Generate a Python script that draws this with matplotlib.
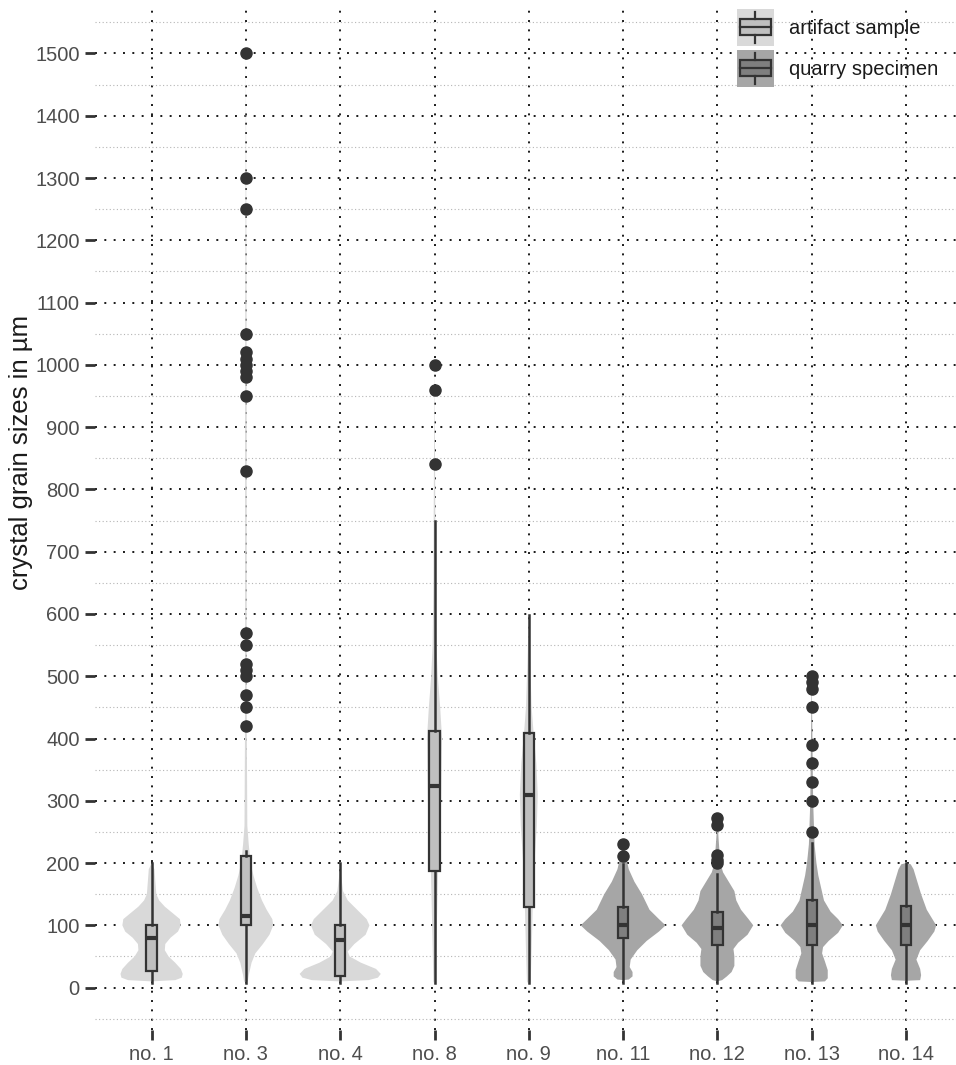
import numpy as np
import matplotlib.pyplot as plt
from matplotlib.patches import Rectangle
from matplotlib.lines import Line2D
from matplotlib.legend_handler import HandlerBase
from matplotlib.ticker import MultipleLocator

plt.rcParams['font.family'] = ['Liberation Sans', 'DejaVu Sans']

# 类别与分组
categories = ['no. 1', 'no. 3', 'no. 4', 'no. 8', 'no. 9', 'no. 11', 'no. 12', 'no. 13', 'no. 14']
groups = ['artifact', 'artifact', 'artifact', 'artifact', 'artifact',
          'quarry', 'quarry', 'quarry', 'quarry']

# 箱线图统计量 (µm)
q1 = [26, 100, 19, 188, 129, 79, 68, 68, 68]
median = [80, 115, 77, 324, 310, 100, 96, 101, 101]
q3 = [100, 212, 100, 412, 409, 130, 121, 141, 131]
whisk_lo = [8, 8, 8, 8, 8, 8, 8, 8, 8]
whisk_hi = [200, 220, 200, 750, 598, 198, 182, 232, 200]

# 离群点
outliers = [
    [],
    [420, 450, 470, 500, 510, 520, 550, 570, 830, 950, 980, 990, 1000, 1010, 1020, 1050, 1250, 1300, 1500],
    [],
    [840, 960, 1000],
    [],
    [212, 231],
    [200, 205, 213, 261, 272],
    [250, 300, 330, 360, 390, 450, 480, 490, 500],
    [],
]

# 小提琴轮廓: (值, 半宽)
violin_no1 = [(10, 0.0), (12, 0.25), (16, 0.32), (22, 0.33), (30, 0.31), (40, 0.25), (50, 0.18),
              (60, 0.14), (70, 0.145), (80, 0.2), (90, 0.28), (100, 0.31), (110, 0.3), (120, 0.22),
              (130, 0.14), (140, 0.08), (150, 0.05), (170, 0.04), (190, 0.03), (200, 0.0)]
violin_no3 = [(8, 0.0), (10, 0.02), (20, 0.03), (40, 0.06), (55, 0.1), (70, 0.18), (85, 0.25),
              (100, 0.29), (110, 0.28), (125, 0.22), (140, 0.17), (160, 0.12), (180, 0.08),
              (200, 0.05), (230, 0.03), (260, 0.015), (400, 0.01), (600, 0.008), (1000, 0.008),
              (1500, 0.0)]
violin_no4 = [(10, 0.0), (12, 0.3), (16, 0.4), (22, 0.43), (30, 0.38), (40, 0.22), (50, 0.1),
              (58, 0.08), (70, 0.15), (85, 0.27), (100, 0.31), (110, 0.28), (125, 0.18),
              (140, 0.08), (155, 0.03), (180, 0.01), (200, 0.0)]
violin_no8 = [(5, 0.0), (10, 0.012), (100, 0.025), (200, 0.04), (300, 0.07), (350, 0.075),
              (400, 0.08), (450, 0.06), (500, 0.035), (550, 0.02), (650, 0.012), (750, 0.009),
              (1000, 0.0)]
violin_no9 = [(5, 0.0), (10, 0.02), (60, 0.03), (120, 0.04), (200, 0.06), (260, 0.085),
              (310, 0.095), (360, 0.08), (410, 0.05), (450, 0.03), (520, 0.015), (600, 0.0)]
violin_no11 = [(12, 0.0), (13, 0.06), (18, 0.1), (25, 0.1), (33, 0.07), (45, 0.08), (60, 0.15),
               (75, 0.25), (90, 0.38), (100, 0.45), (110, 0.38), (125, 0.28), (150, 0.2),
               (170, 0.12), (190, 0.06), (210, 0.03), (231, 0.0)]
violin_no12 = [(10, 0.0), (12, 0.05), (18, 0.1), (25, 0.15), (35, 0.18), (50, 0.18), (62, 0.17),
               (72, 0.22), (85, 0.32), (100, 0.38), (110, 0.33), (125, 0.25), (140, 0.2),
               (155, 0.18), (170, 0.12), (185, 0.06), (200, 0.03), (240, 0.012), (272, 0.0)]
violin_no13 = [(9, 0.0), (10, 0.14), (15, 0.17), (28, 0.17), (42, 0.14), (55, 0.11), (65, 0.12),
               (75, 0.18), (88, 0.28), (100, 0.33), (110, 0.28), (122, 0.2), (140, 0.13),
               (160, 0.1), (180, 0.07), (200, 0.05), (230, 0.03), (300, 0.015), (500, 0.0)]
violin_no14 = [(11, 0.0), (12, 0.15), (20, 0.16), (30, 0.15), (45, 0.11), (60, 0.15), (75, 0.23),
               (90, 0.3), (100, 0.32), (110, 0.28), (125, 0.22), (150, 0.16), (170, 0.12),
               (190, 0.08), (198, 0.05), (200, 0.0)]
violins = [violin_no1, violin_no3, violin_no4, violin_no8, violin_no9,
           violin_no11, violin_no12, violin_no13, violin_no14]

violin_color = {'artifact': '#d9d9d9', 'quarry': '#a6a6a6'}
box_color = {'artifact': '#bfbfbf', 'quarry': '#7f7f7f'}
edge = '#333333'


class BoxKeyHandler(HandlerBase):
    """图例里的箱线图小图标（正方形底色）"""
    def __init__(self, bg, fill):
        super().__init__()
        self.bg = bg
        self.fill = fill

    def create_artists(self, legend, orig_handle, xdescent, ydescent, width, height, fontsize, trans):
        s = width
        x0 = -xdescent
        y0 = -ydescent + height / 2 - s / 2
        bg = Rectangle((x0, y0), s, s, facecolor=self.bg, edgecolor='none', transform=trans)
        bx = Rectangle((x0 + s * 0.07, y0 + s * 0.28), s * 0.86, s * 0.44,
                       facecolor=self.fill, edgecolor=edge, linewidth=1.6, transform=trans)
        med = Line2D([x0 + s * 0.07, x0 + s * 0.93], [y0 + s * 0.5] * 2,
                     color=edge, linewidth=1.6, transform=trans)
        w1 = Line2D([x0 + s * 0.5] * 2, [y0 + s * 0.06, y0 + s * 0.28],
                    color=edge, linewidth=1.6, transform=trans)
        w2 = Line2D([x0 + s * 0.5] * 2, [y0 + s * 0.72, y0 + s * 0.94],
                    color=edge, linewidth=1.6, transform=trans)
        return [bg, bx, med, w1, w2]


fig = plt.figure(figsize=(9.56, 10.65), dpi=100)
ax = fig.add_axes([0.0994, 0.0329, 0.9006, 0.9596])

positions = np.arange(len(categories))

# 小提琴
for i, prof in enumerate(violins):
    ys = np.array([p[0] for p in prof])
    hw = np.array([p[1] for p in prof])
    ax.fill_betweenx(ys, positions[i] - hw, positions[i] + hw,
                     facecolor=violin_color[groups[i]], edgecolor='none', zorder=2)

# 箱线图
stats = []
for i in range(len(categories)):
    stats.append({'med': median[i], 'q1': q1[i], 'q3': q3[i],
                  'whislo': whisk_lo[i], 'whishi': whisk_hi[i], 'fliers': outliers[i]})
bp = ax.bxp(stats, positions=positions, widths=0.11, patch_artist=True, showcaps=False,
            boxprops=dict(edgecolor=edge, linewidth=1.6),
            whiskerprops=dict(color=edge, linewidth=1.8),
            medianprops=dict(color=edge, linewidth=3.0, solid_capstyle='butt'),
            flierprops=dict(marker='o', markersize=8, markerfacecolor=edge,
                            markeredgecolor=edge, linestyle='none'))
for i, patch in enumerate(bp['boxes']):
    patch.set_facecolor(box_color[groups[i]])
    patch.set_zorder(3)
for artist in bp['whiskers'] + bp['medians'] + bp['fliers']:
    artist.set_zorder(3)

# 坐标轴
ax.set_xlim(-0.6, 8.53)
ax.set_ylim(-68, 1573)
ax.set_xticks(positions)
ax.set_xticklabels(categories)
ax.yaxis.set_major_locator(MultipleLocator(100))
ax.yaxis.set_minor_locator(MultipleLocator(50))
ax.tick_params(axis='both', which='major', length=7, width=2, color='#333333',
               labelsize=14.5, labelcolor='#4d4d4d', pad=4)
ax.tick_params(axis='y', which='minor', length=0)
for s in ax.spines.values():
    s.set_visible(False)

ax.set_axisbelow(True)
ax.grid(True, axis='y', which='major', color='#1a1a1a', linewidth=1.4, linestyle=(0, (1, 3.8)))
ax.grid(True, axis='y', which='minor', color='#b5b5b5', linewidth=0.8, linestyle=(0, (1, 2.2)))
ax.grid(True, axis='x', which='major', color='#1a1a1a', linewidth=1.4, linestyle=(0, (1, 3.8)))

ax.set_ylabel('crystal grain sizes in µm', fontsize=18.5, color='#1a1a1a')
ax.yaxis.set_label_coords(-0.072, 0.5655)

# 图例
h1 = Rectangle((0, 0), 1, 1)
h2 = Rectangle((0, 0), 1, 1)
leg = ax.legend([h1, h2], ['artifact sample', 'quarry specimen'], loc='upper right',
                bbox_to_anchor=(0.979, 1.0), frameon=False, fontsize=14.5,
                handlelength=1.8, handleheight=2.6, handletextpad=0.75, labelspacing=0.1,
                borderpad=0.0, borderaxespad=0.0,
                handler_map={h1: BoxKeyHandler('#d9d9d9', '#bfbfbf'),
                             h2: BoxKeyHandler('#a6a6a6', '#7f7f7f')})
for t in leg.get_texts():
    t.set_color('#1a1a1a')

plt.savefig('out.png', dpi=100)
